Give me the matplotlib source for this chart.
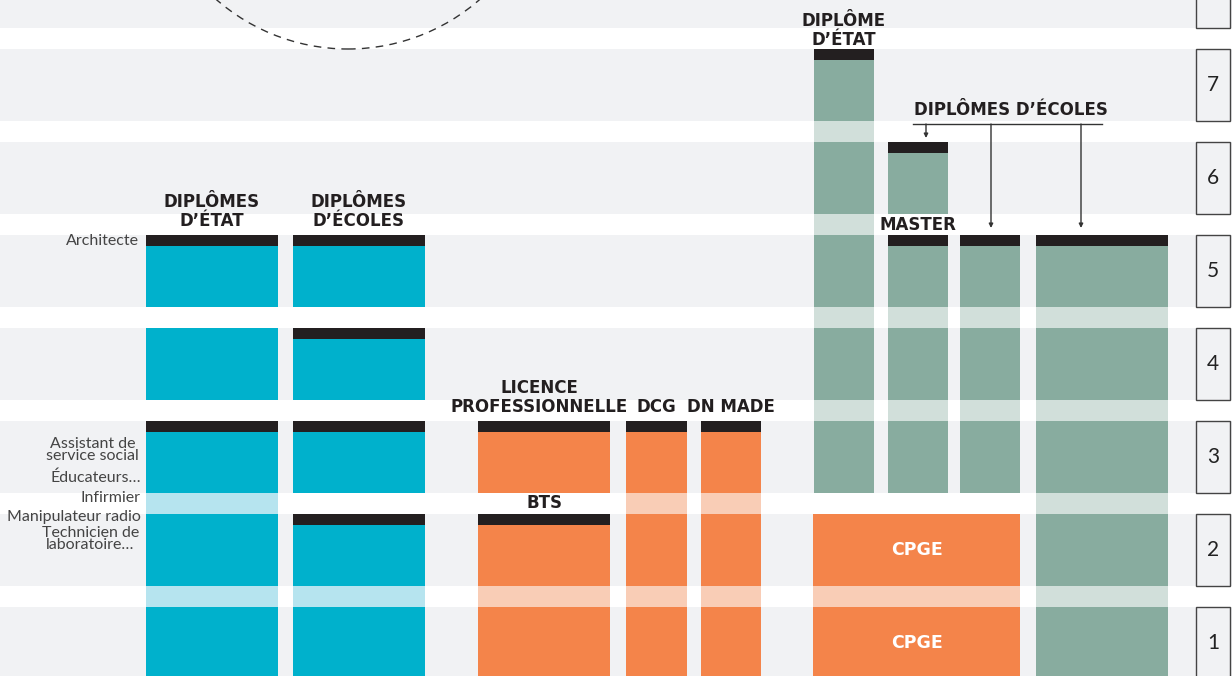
import matplotlib
matplotlib.use("Agg")
import matplotlib.pyplot as plt
from matplotlib.patches import Rectangle, Ellipse

# --- data -------------------------------------------------------------
YEARS = [1, 2, 3, 4, 5, 6, 7, 8]
YEAR_LABELS = ['1', '2', '3', '4', '5', '6', '7', '']

COLUMNS = ['etat', 'ecoles', 'lp', 'dcg', 'dnmade', 'cpge', 'de7', 'master', 'ecole3', 'ecole5']
COL_FAMILY = ['blue', 'blue', 'orange', 'orange', 'orange', 'orange', 'green', 'green', 'green', 'green']

# segments of study: column, first year, last year, diploma cap at the end
SEG_COL = ['etat', 'etat', 'etat', 'ecoles', 'ecoles', 'ecoles', 'ecoles', 'lp', 'lp', 'dcg', 'dnmade',
           'cpge', 'de7', 'master', 'master', 'ecole3', 'ecole5']
SEG_START = [1, 4, 5, 1, 3, 4, 5, 1, 3, 1, 1, 1, 3, 3, 6, 3, 1]
SEG_END = [3, 4, 5, 2, 3, 4, 5, 2, 3, 3, 3, 2, 7, 5, 6, 5, 5]
SEG_CAP = [True, False, True, True, True, True, True, True, True, True, True,
           False, True, True, True, True, True]

# diploma labels: text, column, year whose top they sit on
DIP_TEXT = ['DIPLÔMES\nD\u2019ÉTAT', 'DIPLÔMES\nD\u2019ÉCOLES', 'LICENCE\nPROFESSIONNELLE', 'BTS',
            'DCG', 'DN MADE', 'DIPLÔME\nD\u2019ÉTAT', 'MASTER']
DIP_COL = ['etat', 'ecoles', 'lp', 'lp', 'dcg', 'dnmade', 'de7', 'master']
DIP_YEAR = [5, 5, 3, 2, 3, 3, 7, 5]

CPGE_YEARS = [1, 2]

SIDE_TEXT = ['Architecte', 'Assistant de\nservice social', 'Éducateurs\u2026', 'Infirmier',
             'Manipulateur radio', 'Technicien de\nlaboratoire\u2026']

# --- layout / style ---------------------------------------------------
PX_PER_YEAR = 93.0
BASE_PX = 679.0
BAND = 72 / PX_PER_YEAR
CAP = 11 / PX_PER_YEAR


def v(py):
    return (BASE_PX - py) / PX_PER_YEAR


COL_X = {'etat': (146, 132), 'ecoles': (293, 132), 'lp': (478, 132), 'dcg': (626, 61),
         'dnmade': (701, 60), 'cpge': (813, 207), 'de7': (814, 60), 'master': (888, 60),
         'ecole3': (960, 60), 'ecole5': (1036, 132)}
FULL = {'blue': '#00b1cc', 'orange': '#f4844a', 'green': '#88ac9f'}
LIGHT = {'blue': '#b6e4ef', 'orange': '#f9cdb6', 'green': '#d1dfda'}
BG = '#f1f2f4'
INK = '#231f20'
family = dict(zip(COLUMNS, COL_FAMILY))

# pixel gap between a heading and the cap under it
DIP_GAP = [4.5, 4.5, 4.5, 2.5, 4.5, 4.5, 0, 0.5]

SIDE_Y = [241, 450, 478, 498, 517, 539]
SIDE_X = [139, 139, 141, 141, 141, 139]

BOLD = ['DejaVu Sans']
HEAD = dict(family=BOLD, fontweight='bold', fontsize=12, color=INK,
            ha='center', va='bottom', linespacing=1.1)

fig = plt.figure(figsize=(12.32, 6.76), dpi=100)
ax = fig.add_axes([0, 0, 1, 1])
ax.set_xlim(0, 1232)
ax.set_ylim(v(676), v(0))
ax.axis('off')

# grey year bands
for yr in YEARS:
    ax.add_patch(Rectangle((0, yr - 1), 1232, BAND, facecolor=BG, edgecolor='none', zorder=0))

# dashed arc at the top
ax.add_patch(Ellipse((348, v(-151)), 400, 400 / PX_PER_YEAR, fill=False, edgecolor='#333333',
                     lw=1.0, linestyle=(0, (5.5, 4.5)), zorder=1))

# study segments
for c, s, e, cap in zip(SEG_COL, SEG_START, SEG_END, SEG_CAP):
    x0, w = COL_X[c]
    fam = family[c]
    for yr in range(s, e + 1):
        ax.add_patch(Rectangle((x0, yr - 1), w, BAND, facecolor=FULL[fam], edgecolor='none', zorder=2))
    for yr in range(s, e):
        ax.add_patch(Rectangle((x0, yr - 1 + BAND), w, 1 - BAND, facecolor=LIGHT[fam],
                               edgecolor='none', zorder=2))
    if cap:
        ax.add_patch(Rectangle((x0, e - 1 + BAND - CAP), w, CAP, facecolor=INK, edgecolor='none', zorder=3))

# CPGE labels
x0, w = COL_X['cpge']
for yr in CPGE_YEARS:
    ax.text(x0 + w / 2, yr - 1 + BAND / 2, 'CPGE', ha='center', va='center', color='white',
            family=BOLD, fontweight='bold', fontsize=12.5, zorder=4)

# diploma headings
for t, c, yr, gap in zip(DIP_TEXT, DIP_COL, DIP_YEAR, DIP_GAP):
    x0, w = COL_X[c]
    xc = x0 + w / 2
    if c == 'lp' and yr == 3:
        xc -= 5
    ax.text(xc, yr - 1 + BAND + gap / PX_PER_YEAR, t, zorder=4, **HEAD)

# "DIPLÔMES D'ÉCOLES" with arrows
ax.text(1011, v(119), 'DIPLÔMES D\u2019ÉCOLES', zorder=4, **HEAD)
ax.plot([913, 1102], [v(124), v(124)], color='#333333', lw=1.0, zorder=4)
for xa, ya in [(926, 138), (991, 228), (1081, 228)]:
    ax.annotate('', xy=(xa, v(ya)), xytext=(xa, v(124)),
                arrowprops=dict(arrowstyle='-|>', color='#333333', lw=1.0,
                                mutation_scale=6, shrinkA=0, shrinkB=0), zorder=4)

# side labels
for t, y, x in zip(SIDE_TEXT, SIDE_Y, SIDE_X):
    ax.text(x, v(y), t, ha='right', va='center', multialignment='center', color='#444444',
            family=['Lato', 'DejaVu Sans'], fontsize=11.5, linespacing=0.85, zorder=4)

# year boxes on the right
for yr, lab in zip(YEARS, YEAR_LABELS):
    ax.add_patch(Rectangle((1196, yr - 1), 34, BAND, facecolor=BG, edgecolor='#444444', lw=1.0, zorder=3))
    if lab:
        ax.text(1213, yr - 1 + BAND / 2, lab, ha='center', va='center', color='#222222',
                family=['Lato', 'DejaVu Sans'], fontsize=15, zorder=4)

fig.savefig('out.png', dpi=100, facecolor='white')
